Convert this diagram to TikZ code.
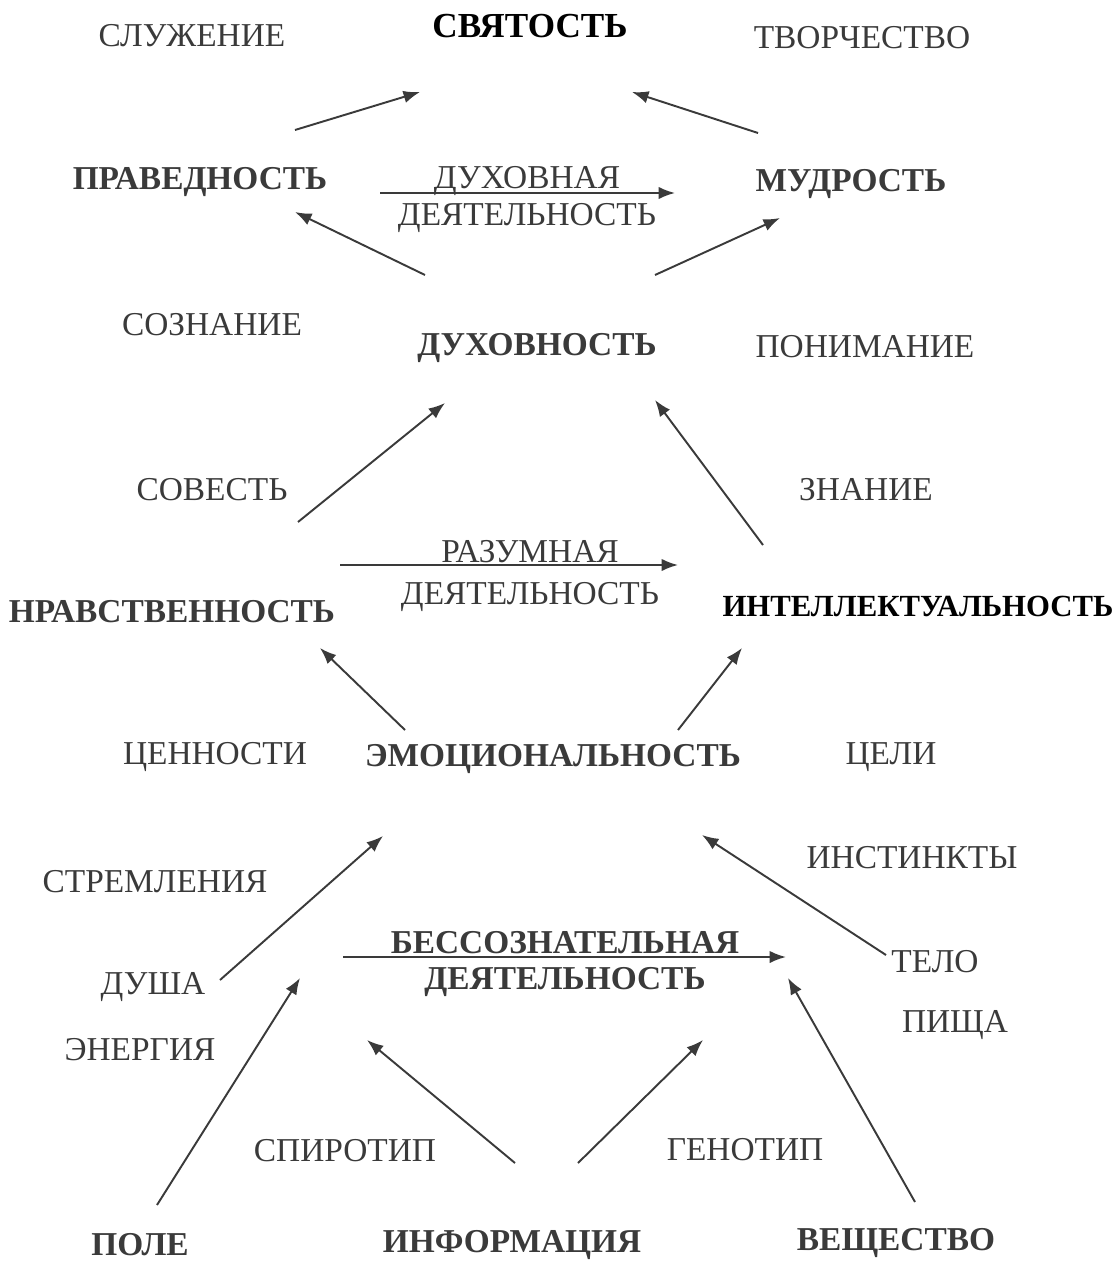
\documentclass[tikz,border=0pt]{standalone}
\usepackage{fontspec}
\setmainfont{Liberation Serif}
\usetikzlibrary{arrows.meta}
\definecolor{ink}{HTML}{3A3A3A}

\begin{document}
\begin{tikzpicture}[x=0.02cm,y=-0.02cm,
	every node/.style={font=\fontsize{19}{21}\selectfont,text=ink,inner sep=0pt},
	key/.style={font=\fontsize{19}{21}\selectfont\bfseries},
	top/.style={key,text=black},
	arr/.style={draw=ink,line width=1.1pt,-{Latex[length=3.3mm,width=2.5mm]}}]
	\useasboundingbox (0,0) rectangle (1118,1267);

	% levels
	\node[top,font=\fontsize{20}{22}\selectfont\bfseries] (svyat) at (530,26) {СВЯТОСТЬ};
	\node[key] (prav) at (200,182) {ПРАВЕДНОСТЬ};
	\node[key] (mudr) at (851,184) {МУДРОСТЬ};
	\node[key] (duhov) at (537,348) {ДУХОВНОСТЬ};
	\node[key] (nrav) at (172,612) {НРАВСТВЕННОСТЬ};
	\node[top,font=\fontsize{17.5}{20}\selectfont\bfseries] (intel) at (918,606) {ИНТЕЛЛЕКТУАЛЬНОСТЬ};
	\node[key] (emoc) at (553,759) {ЭМОЦИОНАЛЬНОСТЬ};
	\node[key] (pole) at (140,1245) {ПОЛЕ};
	\node[key] (inform) at (512,1245) {ИНФОРМАЦИЯ};
	\node[key] (veshch) at (896,1243) {ВЕЩЕСТВО};

	% side words
	\node (sluzh) at (192,36) {СЛУЖЕНИЕ};
	\node (tvor) at (862,38) {ТВОРЧЕСТВО};
	\node (soznan) at (212,325) {СОЗНАНИЕ};
	\node (ponim) at (865,347) {ПОНИМАНИЕ};
	\node (sovest) at (212,490) {СОВЕСТЬ};
	\node (znan) at (866,490) {ЗНАНИЕ};
	\node (cenn) at (215,757) {ЦЕННОСТИ};
	\node (celi) at (891,757) {ЦЕЛИ};
	\node (strem) at (155,882) {СТРЕМЛЕНИЯ};
	\node (instin) at (912,858) {ИНСТИНКТЫ};
	\node (dusha) at (153,987) {ДУША};
	\node (telo) at (935,962) {ТЕЛО};
	\node (energ) at (140,1050) {ЭНЕРГИЯ};
	\node (pishch) at (955,1025) {ПИЩА};
	\node (spirot) at (345,1151) {СПИРОТИП};
	\node (genot) at (745,1150) {ГЕНОТИП};

	% activities
	\node (duhA) at (527,181) {ДУХОВНАЯ};
	\node (duhB) at (527,218) {ДЕЯТЕЛЬНОСТЬ};
	\node (razA) at (530,552) {РАЗУМНАЯ};
	\node (razB) at (530,597) {ДЕЯТЕЛЬНОСТЬ};
	\node[key] (bessA) at (565,943) {БЕССОЗНАТЕЛЬНАЯ};
	\node[key] (bessB) at (565,982) {ДЕЯТЕЛЬНОСТЬ};

	% arrow ends
	\coordinate (a1) at (295,130); \coordinate (b1) at (420,92);
	\coordinate (a2) at (758,133); \coordinate (b2) at (632,92);
	\coordinate (a3) at (380,193); \coordinate (b3) at (675,193);
	\coordinate (a4) at (425,275); \coordinate (b4) at (295,212);
	\coordinate (a5) at (655,275); \coordinate (b5) at (780,218);
	\coordinate (a6) at (298,522); \coordinate (b6) at (445,403);
	\coordinate (a7) at (763,545); \coordinate (b7) at (655,400);
	\coordinate (a8) at (340,565); \coordinate (b8) at (678,565);
	\coordinate (a9) at (405,730); \coordinate (b9) at (320,648);
	\coordinate (a10) at (678,730); \coordinate (b10) at (742,648);
	\coordinate (a11) at (220,980); \coordinate (b11) at (383,836);
	\coordinate (a12) at (886,955); \coordinate (b12) at (702,835);
	\coordinate (a13) at (343,957); \coordinate (b13) at (786,957);
	\coordinate (a14) at (157,1205); \coordinate (b14) at (300,978);
	\coordinate (a15) at (515,1163); \coordinate (b15) at (367,1040);
	\coordinate (a16) at (578,1163); \coordinate (b16) at (703,1040);
	\coordinate (a17) at (915,1202); \coordinate (b17) at (788,978);

	\foreach \i in {1,...,17}
		\draw[arr] (a\i) -- (b\i);
\end{tikzpicture}
\end{document}
